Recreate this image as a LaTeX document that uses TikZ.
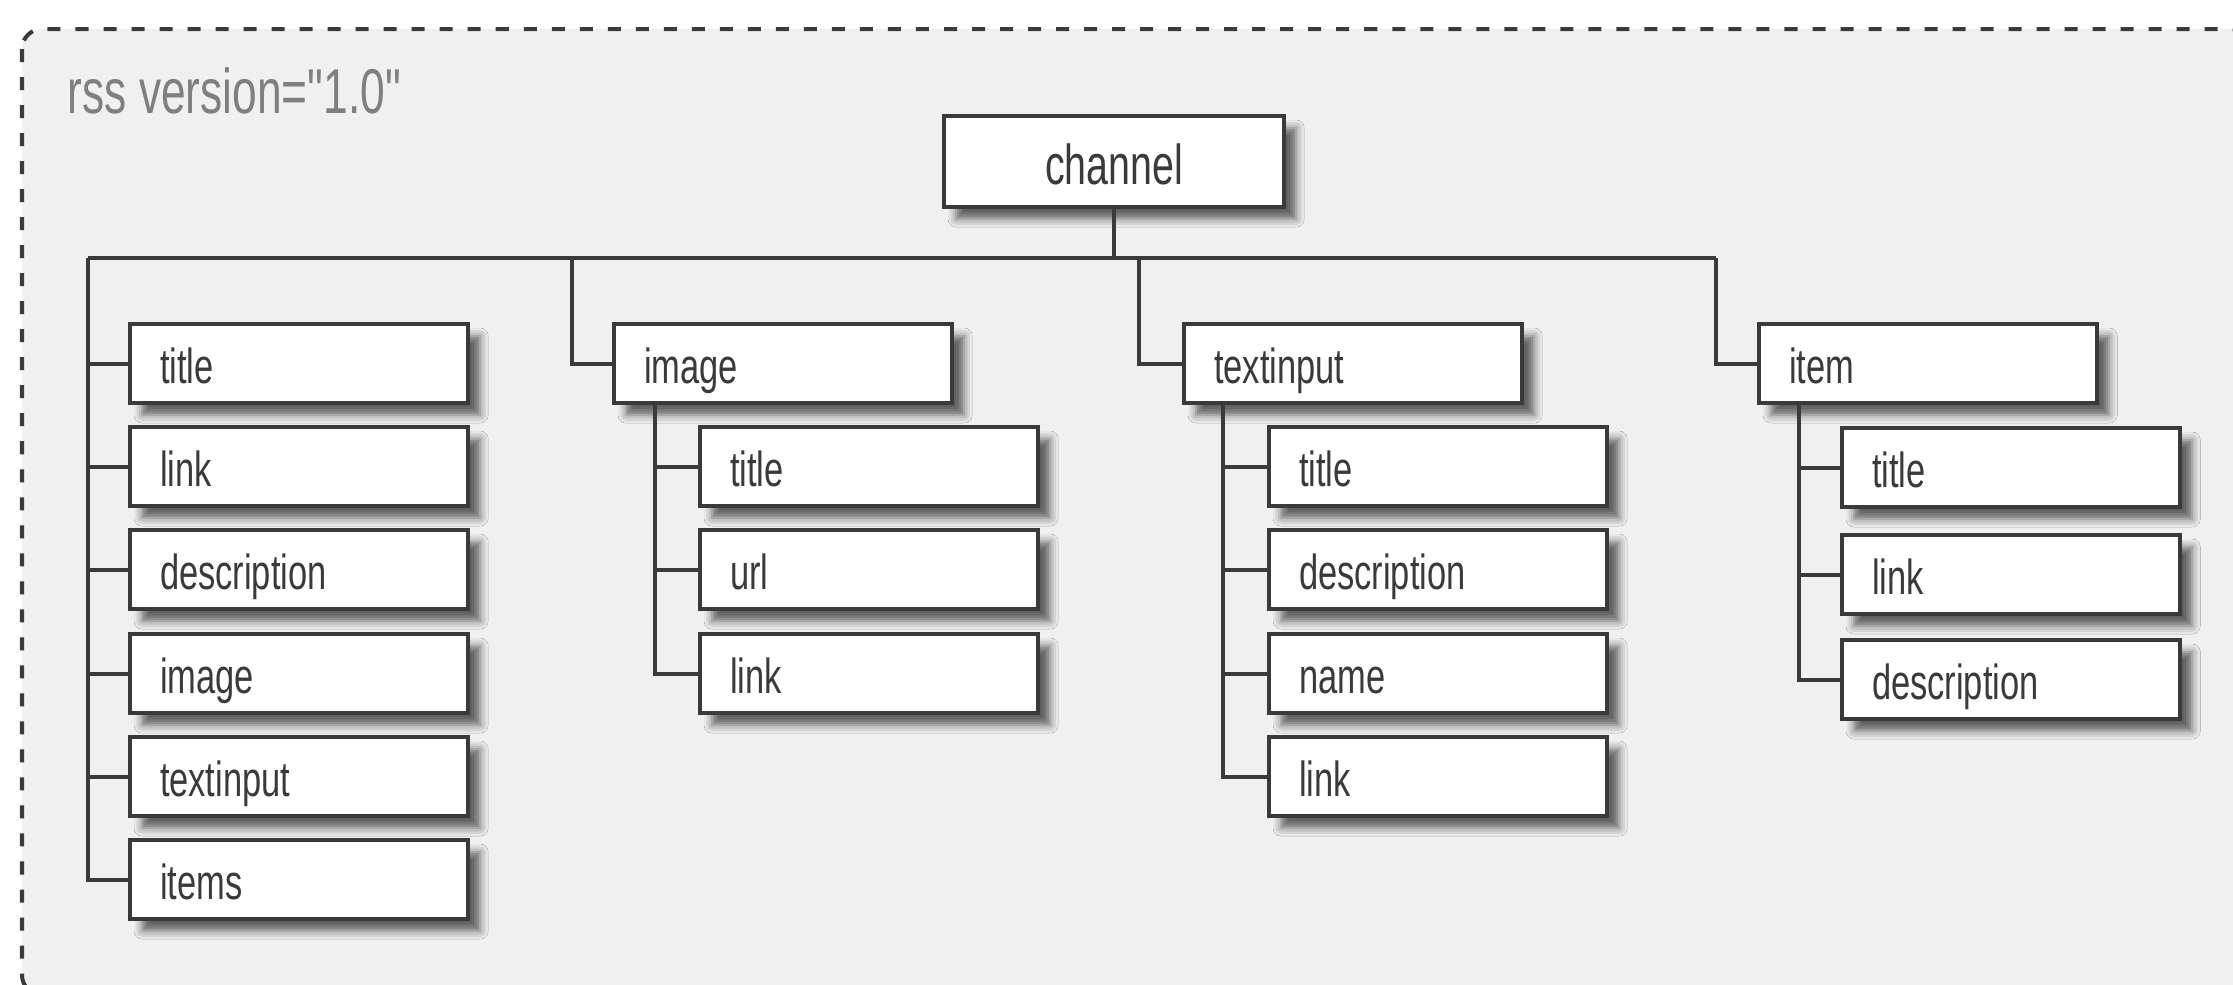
\documentclass[tikz,border=0pt]{standalone}
\usepackage{fontspec}
\setmainfont{Liberation Sans}[FakeStretch=0.7]
\newfontfamily\straightquotes{Liberation Sans}[FakeStretch=0.7, Ligatures=TeXOff]
\usetikzlibrary{shadows.blur}
\definecolor{ink}{HTML}{3A3A3A}
\definecolor{panel}{HTML}{F0F0F0}
\definecolor{labelgray}{HTML}{7F7F7F}
\tikzset{
  tag/.style={draw=ink, line width=0.04cm, fill=white, anchor=north west,
    minimum height=0.79cm, text width=2.78cm, inner xsep=0.3cm, inner ysep=0pt,
    align=left, text height=0.4cm, text depth=0cm, text=ink,
    font=\fontsize{14}{16}\selectfont,
    blur shadow={shadow xshift=0.12cm, shadow yshift=-0.12cm,
      shadow blur radius=0.08cm, shadow opacity=60}},
  roottag/.style={tag, align=center, minimum height=0.91cm, text width=2.8cm,
    text height=0.45cm, font=\fontsize{16}{18}\selectfont},
  wire/.style={draw=ink, line width=0.04cm},
  frame/.style={draw=ink, fill=panel, line width=0.04cm,
    dash pattern=on 0.13cm off 0.15cm, rounded corners=0.2cm}
}
\begin{document}
\begin{tikzpicture}[x=0.01cm, y=-0.01cm]
  \useasboundingbox (0,0) rectangle (2233,984);
  \fill[white] (0,0) rectangle (2233,984);
  % dashed outer element
  \draw[frame] (22,29) rectangle (2250,995);
  \node[anchor=base west, text=labelgray, inner sep=0pt,
        font=\straightquotes\fontsize{18}{20}\selectfont] (rss) at (67,113) {rss version="1.0"};

  % root
  \node[roottag] (channel) at (942,114) {channel};

  % first column: direct children of channel
  \node[tag] (ctitle) at (128,322) {title};
  \node[tag] (clink)  at (128,425) {link};
  \node[tag] (cdesc)  at (128,528) {description};
  \node[tag] (cimage) at (128,632) {image};
  \node[tag] (ctext)  at (128,735) {textinput};
  \node[tag] (citems) at (128,838) {items};

  % image element
  \node[tag] (img)      at (612,322) {image};
  \node[tag] (imgtitle) at (698,425) {title};
  \node[tag] (imgurl)   at (698,528) {url};
  \node[tag] (imglink)  at (698,632) {link};

  % textinput element
  \node[tag] (ti)      at (1182,322) {textinput};
  \node[tag] (tititle) at (1267,425) {title};
  \node[tag] (tidesc)  at (1267,528) {description};
  \node[tag] (tiname)  at (1267,632) {name};
  \node[tag] (tilink)  at (1267,735) {link};

  % item element
  \node[tag] (it)      at (1757,322) {item};
  \node[tag] (ittitle) at (1840,426) {title};
  \node[tag] (itlink)  at (1840,533) {link};
  \node[tag] (itdesc)  at (1840,638) {description};

  % bus and drop points
  \coordinate (busL) at (88,258);
  \coordinate (busR) at (1716,258);
  \coordinate (d2) at (572,258);
  \coordinate (d3) at (1139,258);
  \coordinate (s2) at (655,0);
  \coordinate (s3) at (1223,0);
  \coordinate (s4) at (1799,0);

  \draw[wire] (channel.south) -- (channel.south |- busL);
  \draw[wire] (busL) -- (busR);

  % first column
  \draw[wire] (busL) |- (citems.west);
  \foreach \n in {ctitle,clink,cdesc,cimage,ctext}
    \draw[wire] (\n.west) -- (\n.west -| busL);

  % image branch
  \draw[wire] (d2) |- (img.west);
  \draw[wire] (img.south -| s2) |- (imglink.west);
  \foreach \n in {imgtitle,imgurl}
    \draw[wire] (\n.west) -- (\n.west -| s2);

  % textinput branch
  \draw[wire] (d3) |- (ti.west);
  \draw[wire] (ti.south -| s3) |- (tilink.west);
  \foreach \n in {tititle,tidesc,tiname}
    \draw[wire] (\n.west) -- (\n.west -| s3);

  % item branch
  \draw[wire] (busR) |- (it.west);
  \draw[wire] (it.south -| s4) |- (itdesc.west);
  \foreach \n in {ittitle,itlink}
    \draw[wire] (\n.west) -- (\n.west -| s4);
\end{tikzpicture}
\end{document}
